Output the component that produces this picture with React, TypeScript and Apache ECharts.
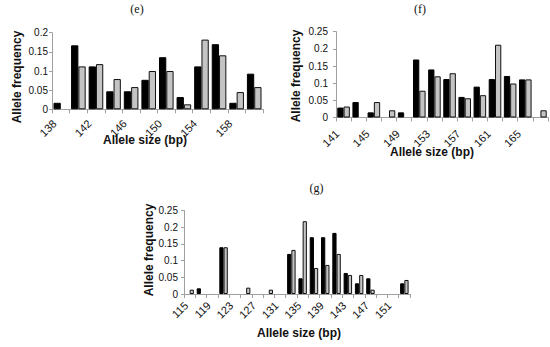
import React, { useEffect, useRef } from "react";
import * as echarts from "echarts";

// Panel (e)
const eCats = ["138", "140", "142", "144", "146", "148", "150", "152", "154", "156", "158", "160"];
const eBlack = [0.017, 0.167, 0.112, 0.047, 0.047, 0.077, 0.136, 0.032, 0.112, 0.17, 0.017, 0.093];
const eGray = [0, 0.112, 0.118, 0.079, 0.058, 0.1, 0.1, 0.013, 0.182, 0.141, 0.045, 0.058];

// Panel (f)
const fCats = ["141", "143", "145", "147", "149", "151", "153", "155", "157", "159", "161", "163", "165", "167"];
const fBlack = [0.029, 0.045, 0.015, 0, 0.015, 0.169, 0.14, 0.112, 0.06, 0.09, 0.112, 0.121, 0.111, 0];
const fGray = [0.032, 0, 0.045, 0.021, 0, 0.078, 0.12, 0.129, 0.056, 0.065, 0.212, 0.099, 0.111, 0.021];

// Panel (g)
const gCats = ["115", "117", "119", "121", "123", "125", "127", "129", "131", "133", "135", "137", "139", "141", "143", "145", "147", "149", "151", "153"];
const gBlack = [0, 0.017, 0, 0.14, 0, 0, 0, 0, 0, 0.12, 0.047, 0.17, 0.17, 0.183, 0.063, 0.032, 0.047, 0, 0, 0.032];
const gGray = [0.013, 0, 0, 0.14, 0, 0.019, 0, 0.013, 0, 0.132, 0.218, 0.078, 0.087, 0.12, 0.057, 0.057, 0.013, 0, 0, 0.042];

const panelTitles = ["(e)", "(f)", "(g)"];
const xName = "Allele size (bp)";
const yName = "Allele frequency";

const SANS = "Liberation Sans";
const SERIF = "Liberation Serif";
const AXIS_GRAY = "#a0a0a0";

const toBars = (arr: number[]) => arr.map((v) => (v === 0 ? "-" : v));

export default function App() {
  const ref = useRef<HTMLDivElement>(null);

  useEffect(() => {
    if (!ref.current) return;
    const chart = echarts.init(ref.current, null, { renderer: "svg" });

    const grids = [
      { left: 52, top: 32.7, width: 211, height: 76.6 },
      { left: 336, top: 31.7, width: 212, height: 85.8 },
      { left: 184, top: 210.5, width: 226, height: 83.5 },
    ];
    const cats = [eCats, fCats, gCats];
    const maxes = [0.2, 0.25, 0.25];
    const yMargins = [4, 8, 6];
    const xMargins = [6, 8, 6];
    const xPads = [9, 9, 5];
    const gaps = ["17%", "17%", "25%"];
    const blacks = [eBlack, fBlack, gBlack];
    const grays = [eGray, fGray, gGray];

    const xAxes = cats.map((c, i) => ({
      type: "category",
      gridIndex: i,
      data: c,
      boundaryGap: true,
      axisLine: { show: true, lineStyle: { color: AXIS_GRAY, width: 1 } },
      axisTick: { show: true, interval: 0, length: 4, lineStyle: { color: AXIS_GRAY } },
      axisLabel: {
        interval: 1,
        rotate: 45,
        margin: xMargins[i],
        formatter: (v: string) => `{t|${v}}{s|}`,
        rich: {
          t: { fontFamily: SANS, fontSize: 11, color: "#111" },
          s: { width: xPads[i], fontSize: 11 },
        },
        fontFamily: SANS,
        fontSize: 11,
        color: "#111",
      },
      splitLine: { show: false },
    }));

    const yAxes = maxes.map((m, i) => ({
      type: "value",
      gridIndex: i,
      min: 0,
      max: m,
      interval: 0.05,
      axisLine: { show: true, lineStyle: { color: AXIS_GRAY, width: 1 } },
      axisTick: { show: true, length: 3, lineStyle: { color: AXIS_GRAY } },
      axisLabel: { fontFamily: SANS, fontSize: 10, color: "#111", margin: yMargins[i] },
      splitLine: { show: false },
    }));

    const series: any[] = [];
    for (let i = 0; i < 3; i++) {
      series.push({
        type: "bar",
        xAxisIndex: i,
        yAxisIndex: i,
        data: toBars(blacks[i]),
        barGap: "0%",
        barCategoryGap: gaps[i],
        itemStyle: { color: "#000", borderColor: "#000", borderWidth: 1 },
      });
      series.push({
        type: "bar",
        xAxisIndex: i,
        yAxisIndex: i,
        data: toBars(grays[i]),
        barGap: "0%",
        barCategoryGap: gaps[i],
        itemStyle: { color: "#c4c4c4", borderColor: "#111", borderWidth: 1 },
      });
    }

    const titlePos = [
      [137, 8.5],
      [420, 8.5],
      [316.5, 187.5],
    ];
    const xNamePos = [
      [145, 140],
      [432, 152],
      [299, 333],
    ];
    const yNamePos = [
      [17, 77],
      [296, 76],
      [149, 250],
    ];

    const graphic: any[] = [];
    for (let i = 0; i < 3; i++) {
      graphic.push({
        type: "text",
        x: titlePos[i][0],
        y: titlePos[i][1],
        style: {
          text: panelTitles[i],
          fontFamily: SERIF,
          fontSize: 12,
          fill: "#111",
          align: "center",
          verticalAlign: "middle",
        },
      });
      graphic.push({
        type: "text",
        x: xNamePos[i][0],
        y: xNamePos[i][1],
        style: {
          text: xName,
          fontFamily: SANS,
          fontSize: 12,
          fontWeight: "bold",
          fill: "#111",
          align: "center",
          verticalAlign: "middle",
        },
      });
      graphic.push({
        type: "text",
        x: yNamePos[i][0],
        y: yNamePos[i][1],
        rotation: Math.PI / 2,
        style: {
          text: yName,
          fontFamily: SANS,
          fontSize: 12,
          fontWeight: "bold",
          fill: "#111",
          align: "center",
          verticalAlign: "middle",
        },
      });
    }

    chart.setOption({
      animation: false,
      backgroundColor: "#fff",
      grid: grids,
      xAxis: xAxes,
      yAxis: yAxes,
      series,
      graphic,
    });

    return () => chart.dispose();
  }, []);

  return <div ref={ref} style={{ width: 550, height: 347, position: "absolute", left: 0, top: 0 }} />;
}
